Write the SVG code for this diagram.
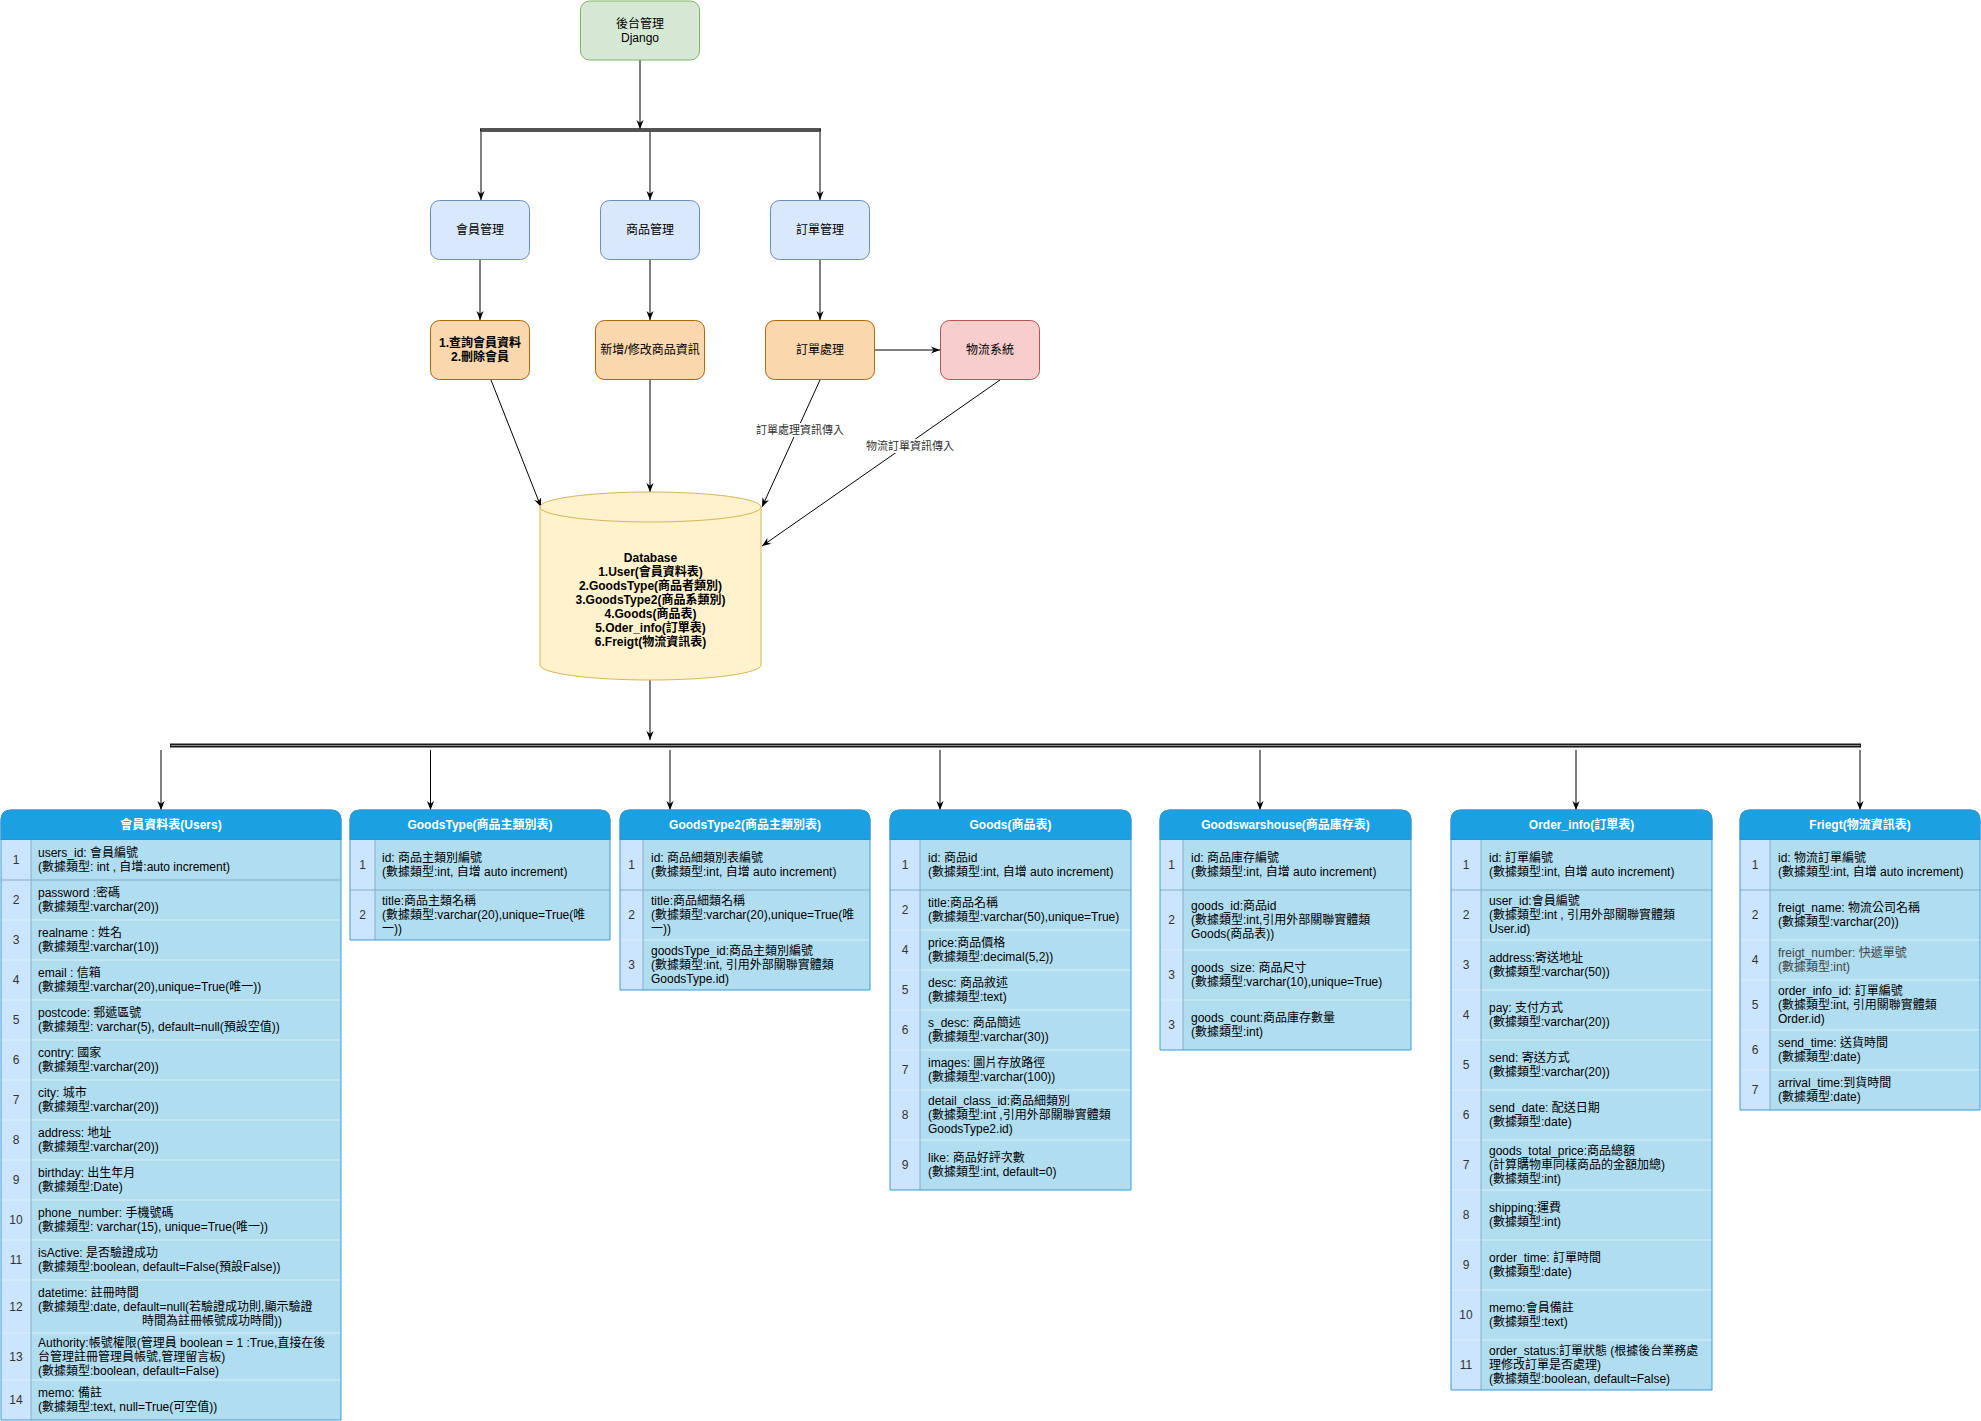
<svg xmlns="http://www.w3.org/2000/svg" width="1981" height="1421" viewBox="0 0 1981 1421">
<style>
.t{font-family:"Liberation Sans","Noto Sans CJK TC",sans-serif;font-size:12px;fill:#000}
.b{font-weight:bold}
.m{text-anchor:middle}
.h{font-family:"Liberation Sans","Noto Sans CJK TC",sans-serif;font-size:12px;font-weight:bold;fill:#fff;text-anchor:middle}
.n{font-family:"Liberation Sans","Noto Sans CJK TC",sans-serif;font-size:12px;fill:#333;text-anchor:middle}
.lb{font-family:"Liberation Sans","Noto Sans CJK TC",sans-serif;font-size:11px;fill:#333;text-anchor:middle}
.lt{fill:#444}
.green{fill:#d5e8d4;stroke:#82b366}
.blue{fill:#dae8fc;stroke:#6c8ebf}
.orange{fill:#fad7ac;stroke:#b46504}
.red{fill:#f8cecc;stroke:#b85450}
.hdr{fill:#1ba1e2;stroke:#1a8ad0}
.numc{fill:#cce5ff;stroke:none}
.cont{fill:#b1ddf0;stroke:none}
.sep{stroke:#dceef9;stroke-width:1}
.sep1{stroke:#86adc9;stroke-width:1}
.bord{fill:none;stroke:#3c9bd6;stroke-width:1}
.ln{fill:none;stroke:#000;stroke-width:1}
.bus{fill:none;stroke:#1a1a1a;stroke-width:4}
.busin{fill:none;stroke:#8a8a8a;stroke-width:1.2}
</style>
<defs>
<marker id="arr" viewBox="0 0 10 10" refX="10" refY="5" markerWidth="9" markerHeight="9" markerUnits="userSpaceOnUse" orient="auto">
<path d="M0,1 L10,5 L0,9 L3,5 Z" fill="#000"/>
</marker>
</defs>
<rect width="1981" height="1421" fill="#fff"/>

<g id="connectors">
<line class="ln" x1="640" y1="60" x2="640" y2="129" marker-end="url(#arr)"/>
<line class="bus" x1="480" y1="130" x2="821" y2="130" style="stroke-width:3.5"/>
<line class="busin" x1="481" y1="130" x2="820" y2="130" style="stroke-width:1"/>
<line class="ln" x1="481" y1="132" x2="481" y2="200" marker-end="url(#arr)"/>
<line class="ln" x1="650" y1="132" x2="650" y2="200" marker-end="url(#arr)"/>
<line class="ln" x1="820" y1="132" x2="820" y2="200" marker-end="url(#arr)"/>
<line class="ln" x1="480" y1="260" x2="480" y2="320" marker-end="url(#arr)"/>
<line class="ln" x1="650" y1="260" x2="650" y2="320" marker-end="url(#arr)"/>
<line class="ln" x1="820" y1="260" x2="820" y2="320" marker-end="url(#arr)"/>
<line class="ln" x1="875" y1="350" x2="940" y2="350" marker-end="url(#arr)"/>
<line class="ln" x1="491" y1="380" x2="541" y2="507" marker-end="url(#arr)"/>
<line class="ln" x1="650" y1="380" x2="650" y2="492" marker-end="url(#arr)"/>
<line class="ln" x1="820" y1="380" x2="762" y2="507" marker-end="url(#arr)"/>
<line class="ln" x1="1000" y1="380" x2="762" y2="546" marker-end="url(#arr)"/>
<rect x="756" y="423" width="88" height="14" fill="#fff"/>
<text class="lb" x="800" y="434">訂單處理資訊傳入</text>
<rect x="866" y="439" width="89" height="14" fill="#fff"/>
<text class="lb" x="910" y="450">物流訂單資訊傳入</text>
<line class="ln" x1="650" y1="680" x2="650" y2="740" marker-end="url(#arr)"/>
<line class="bus" x1="170" y1="745.5" x2="1861" y2="745.5"/>
<line class="busin" x1="171" y1="745.5" x2="1860" y2="745.5"/>
<line class="ln" x1="161" y1="750" x2="161" y2="810" marker-end="url(#arr)"/>
<line class="ln" x1="430.5" y1="750" x2="430.5" y2="810" marker-end="url(#arr)"/>
<line class="ln" x1="670" y1="750" x2="670" y2="810" marker-end="url(#arr)"/>
<line class="ln" x1="940" y1="750" x2="940" y2="810" marker-end="url(#arr)"/>
<line class="ln" x1="1260" y1="750" x2="1260" y2="810" marker-end="url(#arr)"/>
<line class="ln" x1="1576" y1="750" x2="1576" y2="810" marker-end="url(#arr)"/>
<line class="ln" x1="1860" y1="750" x2="1860" y2="810" marker-end="url(#arr)"/>
</g>

<g id="n-django">
<rect class="green" x="580.5" y="1" width="119" height="59" rx="9"/>
<text class="t m" x="640" y="27.5">後台管理</text>
<text class="t m" x="640" y="41.5">Django</text>
</g>
<g id="n-member">
<rect class="blue" x="430.5" y="200.5" width="99" height="59" rx="9"/>
<text class="t m" x="480" y="234">會員管理</text>
</g>
<g id="n-goods">
<rect class="blue" x="600.5" y="200.5" width="99" height="59" rx="9"/>
<text class="t m" x="650" y="234">商品管理</text>
</g>
<g id="n-order">
<rect class="blue" x="770.5" y="200.5" width="99" height="59" rx="9"/>
<text class="t m" x="820" y="234">訂單管理</text>
</g>
<g id="n-member-op">
<rect class="orange" x="430.5" y="320.5" width="99" height="59" rx="9"/>
<text class="t m b" x="480" y="347">1.查詢會員資料</text>
<text class="t m b" x="480" y="361">2.刪除會員</text>
</g>
<g id="n-goods-op">
<rect class="orange" x="595.5" y="320.5" width="109" height="59" rx="9"/>
<text class="t m" x="650" y="354">新增/修改商品資訊</text>
</g>
<g id="n-order-op">
<rect class="orange" x="765.5" y="320.5" width="109" height="59" rx="9"/>
<text class="t m" x="820" y="354">訂單處理</text>
</g>
<g id="n-logistics">
<rect class="red" x="940.5" y="320.5" width="99" height="59" rx="9"/>
<text class="t m" x="990" y="354">物流系統</text>
</g>

<g id="n-database">
<path d="M540,507 A110.5,15 0 0 1 761,507 L761,665 A110.5,15 0 0 1 540,665 Z" fill="#fff2cc" stroke="#d6b656"/>
<path d="M540,507 A110.5,15 0 0 0 761,507" fill="none" stroke="#d6b656"/>
<text class="t m b" x="650.5" y="561.7">Database</text>
<text class="t m b" x="650.5" y="575.7">1.User(會員資料表)</text>
<text class="t m b" x="650.5" y="589.7">2.GoodsType(商品者類別)</text>
<text class="t m b" x="650.5" y="603.7">3.GoodsType2(商品系類別)</text>
<text class="t m b" x="650.5" y="617.7">4.Goods(商品表)</text>
<text class="t m b" x="650.5" y="631.7">5.Oder_info(訂單表)</text>
<text class="t m b" x="650.5" y="645.7">6.Freigt(物流資訊表)</text>
</g>

<g id="t-users">
<path class="hdr" d="M1,840 V820 Q1,810 11,810 H331 Q341,810 341,820 V840 Z"/>
<rect class="numc" x="1" y="840" width="30" height="580"/>
<rect class="cont" x="31" y="840" width="310" height="580"/>
<line class="sep1" x1="1" y1="880" x2="341" y2="880"/>
<line class="sep" x1="1" y1="920" x2="341" y2="920"/>
<line class="sep" x1="1" y1="960" x2="341" y2="960"/>
<line class="sep" x1="1" y1="1000" x2="341" y2="1000"/>
<line class="sep" x1="1" y1="1040" x2="341" y2="1040"/>
<line class="sep" x1="1" y1="1080" x2="341" y2="1080"/>
<line class="sep" x1="1" y1="1120" x2="341" y2="1120"/>
<line class="sep" x1="1" y1="1160" x2="341" y2="1160"/>
<line class="sep" x1="1" y1="1200" x2="341" y2="1200"/>
<line class="sep" x1="1" y1="1240" x2="341" y2="1240"/>
<line class="sep" x1="1" y1="1280" x2="341" y2="1280"/>
<line class="sep" x1="1" y1="1333" x2="341" y2="1333"/>
<line class="sep" x1="1" y1="1380" x2="341" y2="1380"/>
<line class="sep1" x1="31" y1="840" x2="31" y2="1420"/>
<path class="bord" d="M1,840 V820 Q1,810 11,810 H331 Q341,810 341,820 V1420 H1 Z"/>
<text class="h" x="171" y="829">會員資料表(Users)</text>
<text class="n" x="16" y="864">1</text>
<text class="n" x="16" y="904">2</text>
<text class="n" x="16" y="944">3</text>
<text class="n" x="16" y="984">4</text>
<text class="n" x="16" y="1024">5</text>
<text class="n" x="16" y="1064">6</text>
<text class="n" x="16" y="1104">7</text>
<text class="n" x="16" y="1144">8</text>
<text class="n" x="16" y="1184">9</text>
<text class="n" x="16" y="1224">10</text>
<text class="n" x="16" y="1264">11</text>
<text class="n" x="16" y="1310.5">12</text>
<text class="n" x="16" y="1360.5">13</text>
<text class="n" x="16" y="1404">14</text>
<text class="t"><tspan x="38" y="857">users_id: 會員編號</tspan><tspan x="38" y="871">(數據類型: int , 自增:auto increment)</tspan></text>
<text class="t"><tspan x="38" y="897">password :密碼</tspan><tspan x="38" y="911">(數據類型:varchar(20))</tspan></text>
<text class="t"><tspan x="38" y="937">realname : 姓名</tspan><tspan x="38" y="951">(數據類型:varchar(10))</tspan></text>
<text class="t"><tspan x="38" y="977">email : 信箱</tspan><tspan x="38" y="991">(數據類型:varchar(20),unique=True(唯一))</tspan></text>
<text class="t"><tspan x="38" y="1017">postcode: 郵遞區號</tspan><tspan x="38" y="1031">(數據類型: varchar(5), default=null(預設空值))</tspan></text>
<text class="t"><tspan x="38" y="1057">contry: 國家</tspan><tspan x="38" y="1071">(數據類型:varchar(20))</tspan></text>
<text class="t"><tspan x="38" y="1097">city: 城市</tspan><tspan x="38" y="1111">(數據類型:varchar(20))</tspan></text>
<text class="t"><tspan x="38" y="1137">address: 地址</tspan><tspan x="38" y="1151">(數據類型:varchar(20))</tspan></text>
<text class="t"><tspan x="38" y="1177">birthday: 出生年月</tspan><tspan x="38" y="1191">(數據類型:Date)</tspan></text>
<text class="t"><tspan x="38" y="1217">phone_number: 手機號碼</tspan><tspan x="38" y="1231">(數據類型: varchar(15), unique=True(唯一))</tspan></text>
<text class="t"><tspan x="38" y="1257">isActive: 是否驗證成功</tspan><tspan x="38" y="1271">(數據類型:boolean, default=False(預設False))</tspan></text>
<text class="t"><tspan x="38" y="1296.5">datetime: 註冊時間</tspan><tspan x="38" y="1310.5">(數據類型:date, default=null(若驗證成功則,顯示驗證</tspan><tspan x="142" y="1324.5">時間為註冊帳號成功時間))</tspan></text>
<text class="t"><tspan x="38" y="1346.5">Authority:帳號權限(管理員 boolean = 1 :True,直接在後</tspan><tspan x="38" y="1360.5">台管理註冊管理員帳號,管理留言板)</tspan><tspan x="38" y="1374.5">(數據類型:boolean, default=False)</tspan></text>
<text class="t"><tspan x="38" y="1397">memo: 備註</tspan><tspan x="38" y="1411">(數據類型:text, null=True(可空值))</tspan></text>
</g>

<g id="t-goodstype">
<path class="hdr" d="M350,840 V820 Q350,810 360,810 H600 Q610,810 610,820 V840 Z"/>
<rect class="numc" x="350" y="840" width="25" height="100"/>
<rect class="cont" x="375" y="840" width="235" height="100"/>
<line class="sep1" x1="350" y1="890" x2="610" y2="890"/>
<line class="sep1" x1="375" y1="840" x2="375" y2="940"/>
<path class="bord" d="M350,840 V820 Q350,810 360,810 H600 Q610,810 610,820 V940 H350 Z"/>
<text class="h" x="480" y="829">GoodsType(商品主類別表)</text>
<text class="n" x="362.5" y="869">1</text>
<text class="n" x="362.5" y="919">2</text>
<text class="t"><tspan x="382" y="862">id: 商品主類別編號</tspan><tspan x="382" y="876">(數據類型:int, 自增 auto increment)</tspan></text>
<text class="t"><tspan x="382" y="905">title:商品主類名稱</tspan><tspan x="382" y="919">(數據類型:varchar(20),unique=True(唯</tspan><tspan x="382" y="933">一))</tspan></text>
</g>

<g id="t-goodstype2">
<path class="hdr" d="M620,840 V820 Q620,810 630,810 H860 Q870,810 870,820 V840 Z"/>
<rect class="numc" x="620" y="840" width="23" height="150"/>
<rect class="cont" x="643" y="840" width="227" height="150"/>
<line class="sep1" x1="620" y1="890" x2="870" y2="890"/>
<line class="sep" x1="620" y1="940" x2="870" y2="940"/>
<line class="sep1" x1="643" y1="840" x2="643" y2="990"/>
<path class="bord" d="M620,840 V820 Q620,810 630,810 H860 Q870,810 870,820 V990 H620 Z"/>
<text class="h" x="745" y="829">GoodsType2(商品主類別表)</text>
<text class="n" x="631.5" y="869">1</text>
<text class="n" x="631.5" y="919">2</text>
<text class="n" x="631.5" y="969">3</text>
<text class="t"><tspan x="651" y="862">id: 商品細類別表編號</tspan><tspan x="651" y="876">(數據類型:int, 自增 auto increment)</tspan></text>
<text class="t"><tspan x="651" y="905">title:商品細類名稱</tspan><tspan x="651" y="919">(數據類型:varchar(20),unique=True(唯</tspan><tspan x="651" y="933">一))</tspan></text>
<text class="t"><tspan x="651" y="955">goodsType_id:商品主類別編號</tspan><tspan x="651" y="969">(數據類型:int, 引用外部關聯實體類</tspan><tspan x="651" y="983">GoodsType.id)</tspan></text>
</g>

<g id="t-goods">
<path class="hdr" d="M890,840 V820 Q890,810 900,810 H1121 Q1131,810 1131,820 V840 Z"/>
<rect class="numc" x="890" y="840" width="30" height="350"/>
<rect class="cont" x="920" y="840" width="211" height="350"/>
<line class="sep1" x1="890" y1="890" x2="1131" y2="890"/>
<line class="sep" x1="890" y1="930" x2="1131" y2="930"/>
<line class="sep" x1="890" y1="970" x2="1131" y2="970"/>
<line class="sep" x1="890" y1="1010" x2="1131" y2="1010"/>
<line class="sep" x1="890" y1="1050" x2="1131" y2="1050"/>
<line class="sep" x1="890" y1="1090" x2="1131" y2="1090"/>
<line class="sep" x1="890" y1="1140" x2="1131" y2="1140"/>
<line class="sep1" x1="920" y1="840" x2="920" y2="1190"/>
<path class="bord" d="M890,840 V820 Q890,810 900,810 H1121 Q1131,810 1131,820 V1190 H890 Z"/>
<text class="h" x="1010.5" y="829">Goods(商品表)</text>
<text class="n" x="905" y="869">1</text>
<text class="n" x="905" y="914">2</text>
<text class="n" x="905" y="954">4</text>
<text class="n" x="905" y="994">5</text>
<text class="n" x="905" y="1034">6</text>
<text class="n" x="905" y="1074">7</text>
<text class="n" x="905" y="1119">8</text>
<text class="n" x="905" y="1169">9</text>
<text class="t"><tspan x="928" y="862">id: 商品id</tspan><tspan x="928" y="876">(數據類型:int, 自增 auto increment)</tspan></text>
<text class="t"><tspan x="928" y="907">title:商品名稱</tspan><tspan x="928" y="921">(數據類型:varchar(50),unique=True)</tspan></text>
<text class="t"><tspan x="928" y="947">price:商品價格</tspan><tspan x="928" y="961">(數據類型:decimal(5,2))</tspan></text>
<text class="t"><tspan x="928" y="987">desc: 商品敘述</tspan><tspan x="928" y="1001">(數據類型:text)</tspan></text>
<text class="t"><tspan x="928" y="1027">s_desc: 商品簡述</tspan><tspan x="928" y="1041">(數據類型:varchar(30))</tspan></text>
<text class="t"><tspan x="928" y="1067">images: 圖片存放路徑</tspan><tspan x="928" y="1081">(數據類型:varchar(100))</tspan></text>
<text class="t"><tspan x="928" y="1105">detail_class_id:商品細類別</tspan><tspan x="928" y="1119">(數據類型:int ,引用外部關聯實體類</tspan><tspan x="928" y="1133">GoodsType2.id)</tspan></text>
<text class="t"><tspan x="928" y="1162">like: 商品好評次數</tspan><tspan x="928" y="1176">(數據類型:int, default=0)</tspan></text>
</g>

<g id="t-goodswarshouse">
<path class="hdr" d="M1160,840 V820 Q1160,810 1170,810 H1401 Q1411,810 1411,820 V840 Z"/>
<rect class="numc" x="1160" y="840" width="23" height="210"/>
<rect class="cont" x="1183" y="840" width="228" height="210"/>
<line class="sep1" x1="1160" y1="890" x2="1411" y2="890"/>
<line class="sep" x1="1160" y1="950" x2="1411" y2="950"/>
<line class="sep" x1="1160" y1="1000" x2="1411" y2="1000"/>
<line class="sep1" x1="1183" y1="840" x2="1183" y2="1050"/>
<path class="bord" d="M1160,840 V820 Q1160,810 1170,810 H1401 Q1411,810 1411,820 V1050 H1160 Z"/>
<text class="h" x="1285.5" y="829">Goodswarshouse(商品庫存表)</text>
<text class="n" x="1171.5" y="869">1</text>
<text class="n" x="1171.5" y="924">2</text>
<text class="n" x="1171.5" y="979">3</text>
<text class="n" x="1171.5" y="1029">3</text>
<text class="t"><tspan x="1191" y="862">id: 商品庫存編號</tspan><tspan x="1191" y="876">(數據類型:int, 自增 auto increment)</tspan></text>
<text class="t"><tspan x="1191" y="910">goods_id:商品id</tspan><tspan x="1191" y="924">(數據類型:int,引用外部關聯實體類</tspan><tspan x="1191" y="938">Goods(商品表))</tspan></text>
<text class="t"><tspan x="1191" y="972">goods_size: 商品尺寸</tspan><tspan x="1191" y="986">(數據類型:varchar(10),unique=True)</tspan></text>
<text class="t"><tspan x="1191" y="1022">goods_count:商品庫存數量</tspan><tspan x="1191" y="1036">(數據類型:int)</tspan></text>
</g>

<g id="t-order-info">
<path class="hdr" d="M1451,840 V820 Q1451,810 1461,810 H1702 Q1712,810 1712,820 V840 Z"/>
<rect class="numc" x="1451" y="840" width="30" height="550"/>
<rect class="cont" x="1481" y="840" width="231" height="550"/>
<line class="sep1" x1="1451" y1="890" x2="1712" y2="890"/>
<line class="sep" x1="1451" y1="940" x2="1712" y2="940"/>
<line class="sep" x1="1451" y1="990" x2="1712" y2="990"/>
<line class="sep" x1="1451" y1="1040" x2="1712" y2="1040"/>
<line class="sep" x1="1451" y1="1090" x2="1712" y2="1090"/>
<line class="sep" x1="1451" y1="1140" x2="1712" y2="1140"/>
<line class="sep" x1="1451" y1="1190" x2="1712" y2="1190"/>
<line class="sep" x1="1451" y1="1240" x2="1712" y2="1240"/>
<line class="sep" x1="1451" y1="1290" x2="1712" y2="1290"/>
<line class="sep" x1="1451" y1="1340" x2="1712" y2="1340"/>
<line class="sep1" x1="1481" y1="840" x2="1481" y2="1390"/>
<path class="bord" d="M1451,840 V820 Q1451,810 1461,810 H1702 Q1712,810 1712,820 V1390 H1451 Z"/>
<text class="h" x="1581.5" y="829">Order_info(訂單表)</text>
<text class="n" x="1466" y="869">1</text>
<text class="n" x="1466" y="919">2</text>
<text class="n" x="1466" y="969">3</text>
<text class="n" x="1466" y="1019">4</text>
<text class="n" x="1466" y="1069">5</text>
<text class="n" x="1466" y="1119">6</text>
<text class="n" x="1466" y="1169">7</text>
<text class="n" x="1466" y="1219">8</text>
<text class="n" x="1466" y="1269">9</text>
<text class="n" x="1466" y="1319">10</text>
<text class="n" x="1466" y="1369">11</text>
<text class="t"><tspan x="1489" y="862">id: 訂單編號</tspan><tspan x="1489" y="876">(數據類型:int, 自增 auto increment)</tspan></text>
<text class="t"><tspan x="1489" y="905">user_id:會員編號</tspan><tspan x="1489" y="919">(數據類型:int , 引用外部關聯實體類</tspan><tspan x="1489" y="933">User.id)</tspan></text>
<text class="t"><tspan x="1489" y="962">address:寄送地址</tspan><tspan x="1489" y="976">(數據類型:varchar(50))</tspan></text>
<text class="t"><tspan x="1489" y="1012">pay: 支付方式</tspan><tspan x="1489" y="1026">(數據類型:varchar(20))</tspan></text>
<text class="t"><tspan x="1489" y="1062">send: 寄送方式</tspan><tspan x="1489" y="1076">(數據類型:varchar(20))</tspan></text>
<text class="t"><tspan x="1489" y="1112">send_date: 配送日期</tspan><tspan x="1489" y="1126">(數據類型:date)</tspan></text>
<text class="t"><tspan x="1489" y="1155">goods_total_price:商品總額</tspan><tspan x="1489" y="1169">(計算購物車同樣商品的金額加總)</tspan><tspan x="1489" y="1183">(數據類型:int)</tspan></text>
<text class="t"><tspan x="1489" y="1212">shipping:運費</tspan><tspan x="1489" y="1226">(數據類型:int)</tspan></text>
<text class="t"><tspan x="1489" y="1262">order_time: 訂單時間</tspan><tspan x="1489" y="1276">(數據類型:date)</tspan></text>
<text class="t"><tspan x="1489" y="1312">memo:會員備註</tspan><tspan x="1489" y="1326">(數據類型:text)</tspan></text>
<text class="t"><tspan x="1489" y="1355">order_status:訂單狀態 (根據後台業務處</tspan><tspan x="1489" y="1369">理修改訂單是否處理)</tspan><tspan x="1489" y="1383">(數據類型:boolean, default=False)</tspan></text>
</g>

<g id="t-freigt">
<path class="hdr" d="M1740,840 V820 Q1740,810 1750,810 H1970 Q1980,810 1980,820 V840 Z"/>
<rect class="numc" x="1740" y="840" width="30" height="270"/>
<rect class="cont" x="1770" y="840" width="210" height="270"/>
<line class="sep1" x1="1740" y1="890" x2="1980" y2="890"/>
<line class="sep" x1="1740" y1="940" x2="1980" y2="940"/>
<line class="sep" x1="1740" y1="980" x2="1980" y2="980"/>
<line class="sep" x1="1740" y1="1030" x2="1980" y2="1030"/>
<line class="sep" x1="1740" y1="1070" x2="1980" y2="1070"/>
<line class="sep1" x1="1770" y1="840" x2="1770" y2="1110"/>
<path class="bord" d="M1740,840 V820 Q1740,810 1750,810 H1970 Q1980,810 1980,820 V1110 H1740 Z"/>
<text class="h" x="1860" y="829">Friegt(物流資訊表)</text>
<text class="n" x="1755" y="869">1</text>
<text class="n" x="1755" y="919">2</text>
<text class="n" x="1755" y="964">4</text>
<text class="n" x="1755" y="1009">5</text>
<text class="n" x="1755" y="1054">6</text>
<text class="n" x="1755" y="1094">7</text>
<text class="t"><tspan x="1778" y="862">id: 物流訂單編號</tspan><tspan x="1778" y="876">(數據類型:int, 自增 auto increment)</tspan></text>
<text class="t"><tspan x="1778" y="912">freigt_name: 物流公司名稱</tspan><tspan x="1778" y="926">(數據類型:varchar(20))</tspan></text>
<text class="t lt"><tspan x="1778" y="957">freigt_number: 快遞單號</tspan><tspan x="1778" y="971">(數據類型:int)</tspan></text>
<text class="t"><tspan x="1778" y="995">order_info_id: 訂單編號</tspan><tspan x="1778" y="1009">(數據類型:int, 引用關聯實體類</tspan><tspan x="1778" y="1023">Order.id)</tspan></text>
<text class="t"><tspan x="1778" y="1047">send_time: 送貨時間</tspan><tspan x="1778" y="1061">(數據類型:date)</tspan></text>
<text class="t"><tspan x="1778" y="1087">arrival_time:到貨時間</tspan><tspan x="1778" y="1101">(數據類型:date)</tspan></text>
</g>
</svg>
